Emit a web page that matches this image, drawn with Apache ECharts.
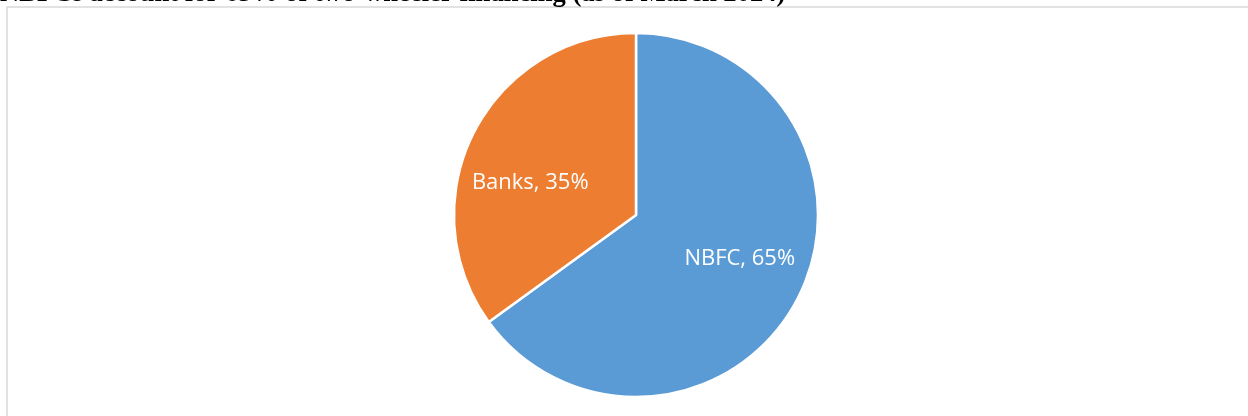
<!DOCTYPE html>
<html>
<head>
<meta charset="utf-8">
<script src="https://cdn.jsdelivr.net/npm/echarts@6/dist/echarts.min.js"></script>
<style>
html,body{margin:0;padding:0;background:#fff;}
#main{width:1248px;height:416px;}
</style>
</head>
<body>
<div id="main"></div>
<script>
const titleText = "NBFCs account for 65% of two-wheeler financing (as of March 2024)";
const categories = ["NBFC", "Banks"];
const values = [65, 35];
const colors = ["#5B9BD5", "#ED7D31"];
const labelOffsets = [[20, 1], [-22, 10]];

const chart = echarts.init(document.getElementById('main'), null, {renderer: 'canvas'});
chart.setOption({
  animation: false,
  backgroundColor: '#ffffff',
  title: {
    text: titleText,
    left: 0,
    top: -19,
    padding: 0,
    textStyle: {fontFamily: 'Liberation Serif', fontWeight: 'bold', fontSize: 26.6, color: '#000'}
  },
  graphic: [{
    type: 'rect',
    shape: {x: 7, y: 7, width: 1400, height: 600},
    style: {fill: 'none', stroke: '#d9d9d9', lineWidth: 1.5},
    z: -1
  }],
  series: [{
    type: 'pie',
    center: [636, 215],
    radius: [0, 182],
    startAngle: 90,
    clockwise: true,
    itemStyle: {borderColor: '#ffffff', borderWidth: 2.5},
    label: {
      show: true,
      position: 'inside',
      color: '#ffffff',
      fontFamily: 'Open Sans',
      fontSize: 22,
      formatter: p => p.name + ', ' + p.value + '%'
    },
    labelLine: {show: false},
    data: categories.map((c, i) => ({
      name: c,
      value: values[i],
      itemStyle: {color: colors[i]},
      label: {offset: labelOffsets[i]}
    }))
  }]
});
</script>
</body>
</html>
